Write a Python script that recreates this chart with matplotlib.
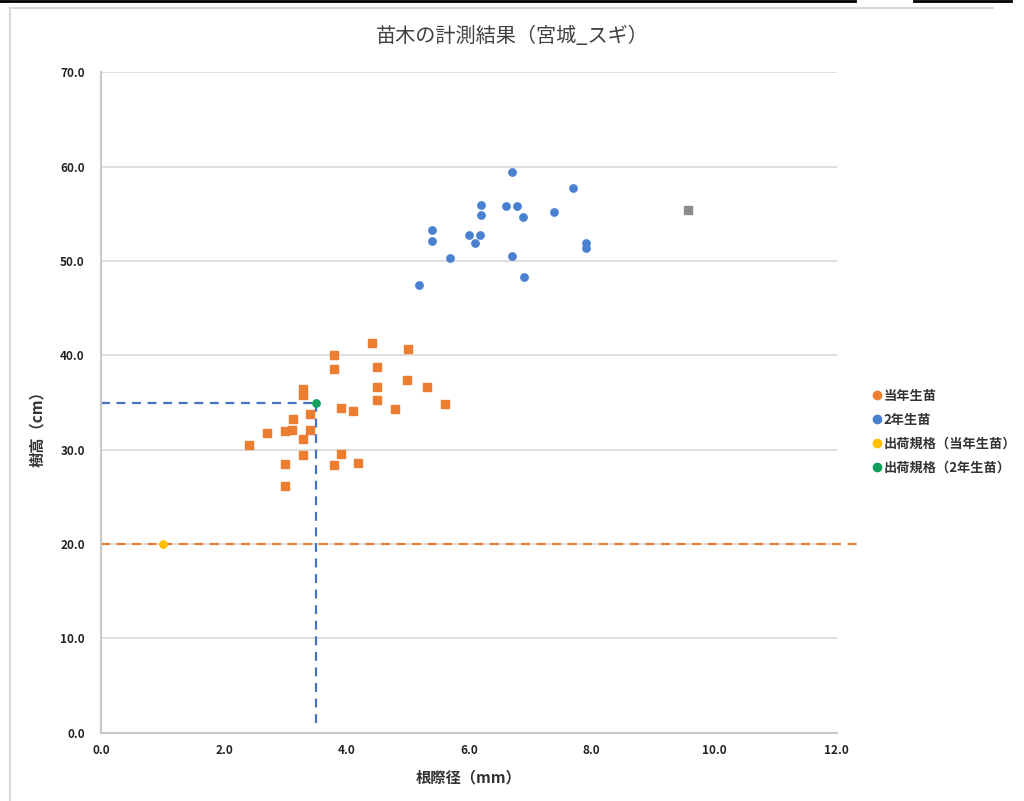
import matplotlib.pyplot as plt
from matplotlib.lines import Line2D

plt.rcParams['font.family'] = ['Noto Sans CJK JP', 'DejaVu Sans']

# 当年生苗 (root collar diameter mm, height cm)
x_tounen = [4.41, 5.01, 3.80, 3.80, 4.49, 4.99, 5.31, 4.49, 3.29, 3.29,
            4.49, 5.61, 3.91, 4.10, 4.79, 3.40, 3.12, 2.71, 3.00, 3.11,
            3.40, 3.29, 2.41, 3.29, 3.91, 3.00, 3.80, 4.19, 3.00]
y_tounen = [41.3, 40.7, 40.0, 38.6, 38.8, 37.4, 36.6, 36.6, 36.4, 35.8,
            35.3, 34.8, 34.4, 34.1, 34.3, 33.8, 33.3, 31.8, 32.0, 32.1,
            32.1, 31.1, 30.5, 29.4, 29.5, 28.5, 28.4, 28.6, 26.1]

# 2年生苗
x_2nen = [6.70, 7.69, 6.20, 6.20, 6.60, 6.78, 6.88, 7.38, 5.39, 5.39,
          6.00, 6.18, 6.10, 5.69, 6.70, 7.91, 7.91, 6.89, 5.19]
y_2nen = [59.4, 57.7, 55.9, 54.9, 55.8, 55.8, 54.7, 55.2, 53.3, 52.1,
          52.8, 52.8, 51.9, 50.3, 50.5, 51.9, 51.4, 48.3, 47.5]

# unlabelled extra point
x_other = [9.58]
y_other = [55.4]

# 出荷規格
std_tounen = (1.0, 20.0)
std_2nen = (3.5, 35.0)

c_orange = '#ED7D31'
c_blue = '#4A80D0'
c_yellow = '#FFC000'
c_green = '#12A05C'
c_gray = '#8C8C8C'

fig = plt.figure(figsize=(10.24, 8.01), dpi=100)
ax = fig.add_axes([0.0991, 0.0855, 0.7178, 0.824])

ax.set_xlim(0, 12)
ax.set_ylim(0, 70)
ax.set_xticks([0, 2, 4, 6, 8, 10, 12])
ax.set_yticks(range(0, 71, 10))
ax.set_xticklabels([f'{v:.1f}' for v in ax.get_xticks()])
ax.set_yticklabels([f'{v:.1f}' for v in ax.get_yticks()])
for lab in ax.get_xticklabels() + ax.get_yticklabels():
    lab.set_fontweight('bold')
    lab.set_fontsize(8.5)
    lab.set_color('#222222')
ax.tick_params(length=0)
ax.tick_params(axis='x', pad=8)
ax.tick_params(axis='y', pad=12)

ax.grid(axis='y', color='#D9D9D9', linewidth=1.2)
ax.set_axisbelow(True)
for s in ['top', 'right']:
    ax.spines[s].set_visible(False)
for s in ['left', 'bottom']:
    ax.spines[s].set_color('#C8C8C8')
    ax.spines[s].set_linewidth(1.5)

# standard lines
ax.plot([0, 12.38], [std_tounen[1], std_tounen[1]], ls=(0, (4, 3)),
        color=c_orange, lw=1.6, clip_on=False, zorder=2)
ax.plot([0, std_2nen[0]], [std_2nen[1], std_2nen[1]], ls=(0, (4, 3)),
        color='#4472C4', lw=1.6, zorder=2)
ax.plot([std_2nen[0], std_2nen[0]], [std_2nen[1], 1.0], ls=(0, (4, 3)),
        color='#4472C4', lw=1.6, zorder=2)

ms = 28
ax.scatter(x_tounen, y_tounen, s=ms, marker='s', color=c_orange, zorder=3)
ax.scatter(x_2nen, y_2nen, s=ms, marker='o', color=c_blue, zorder=3)
ax.scatter(x_other, y_other, s=ms, marker='s', color=c_gray, zorder=3)
ax.scatter([std_tounen[0]], [std_tounen[1]], s=ms, marker='o', color=c_yellow, zorder=4)
ax.scatter([std_2nen[0]], [std_2nen[1]], s=ms, marker='o', color=c_green, zorder=4)

ax.set_xlabel('根際径（mm）', fontsize=11, fontweight='bold', color='#333333', labelpad=9)
ax.set_ylabel('樹高（cm）', fontsize=11, fontweight='bold', color='#333333')
ax.yaxis.set_label_coords(-0.077, 0.466)

fig.text(0.5, 0.954, '苗木の計測結果（宮城_スギ）', ha='center', va='center',
         fontsize=14.5, color='#404040')

handles = [Line2D([], [], ls='', marker='o', ms=6, color=c) for c in
           [c_orange, c_blue, c_yellow, c_green]]
labels = ['当年生苗', '2年生苗', '出荷規格（当年生苗）', '出荷規格（2年生苗）']
leg = fig.legend(handles, labels, loc='center left', bbox_to_anchor=(0.838, 0.461),
                 frameon=False, handletextpad=0.0, handlelength=1.0,
                 labelspacing=0.75, prop={'size': 9.5, 'weight': 'bold'})
for t in leg.get_texts():
    t.set_color('#333333')

# chart frame and the dark rule along the top edge
fig.add_artist(Line2D([0.0098, 0.0098], [0.0, 0.99], color='#D9D9D9', lw=1.5))
fig.add_artist(Line2D([0.0098, 0.97], [0.99, 0.99], color='#D9D9D9', lw=1.5))
fig.add_artist(Line2D([0.0, 0.835], [0.9985, 0.9985], color='black', lw=2))
fig.add_artist(Line2D([0.893, 0.987], [0.9985, 0.9985], color='black', lw=2))

fig.savefig('out.png', dpi=100)
